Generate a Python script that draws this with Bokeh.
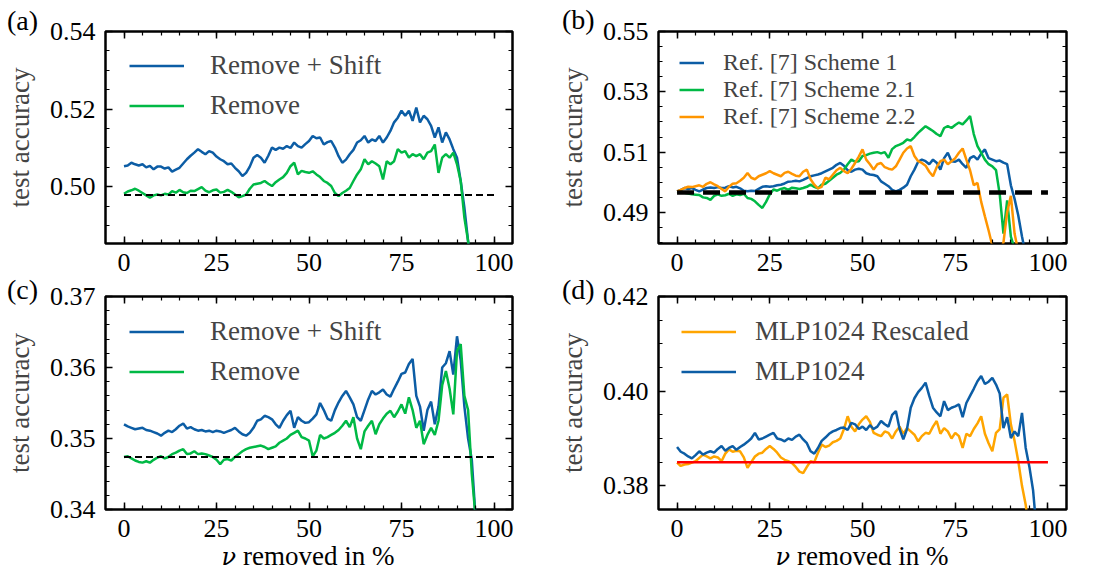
import numpy as np
from bokeh.plotting import figure
from bokeh.models import (Range1d, FixedTicker, NumeralTickFormatter, LinearAxis,
                          Legend, LegendItem, CustomJSTickFormatter, Div)
from bokeh.layouts import column, row
from bokeh.embed import file_html
from bokeh.resources import INLINE

FONT = "Liberation Serif"
BLUE = "#0C5DA5"
GREEN = "#00B945"
ORANGE = "#FF9500"
ORANGE_D = "#FFA500"
RED = "#FF0000"

# ---------------- data (x = nu removed in %, step 1) ----------------
a_shift = [.5053, .5055, .5062, .5058, .5055, .5058, .5050, .5054, .5045, .5052,
           .5052, .5047, .5050, .5039, .5044, .5049, .5060, .5071, .5080, .5088,
           .5097, .5090, .5084, .5092, .5088, .5078, .5071, .5066, .5058, .5060,
           .5049, .5040, .5028, .5036, .5052, .5075, .5082, .5075, .5062, .5080,
           .5101, .5095, .5101, .5098, .5105, .5100, .5114, .5105, .5101, .5110,
           .5118, .5131, .5125, .5127, .5109, .5115, .5118, .5101, .5079, .5062,
           .5070, .5084, .5095, .5114, .5120, .5131, .5114, .5122, .5118, .5131,
           .5114, .5127, .5144, .5166, .5178, .5196, .5183, .5196, .5170, .5204,
           .5166, .5183, .5174, .5157, .5127, .5153, .5114, .5140, .5122, .5097,
           .5075, .5015, .4946, .4860, .4780]
a_remove = [.4982, .4988, .4991, .4995, .4990, .4984, .4978, .4972, .4978, .4980,
            .4978, .4982, .4980, .4989, .4985, .4992, .4986, .4984, .4990, .4989,
            .4994, .4999, .4990, .4986, .4991, .4993, .4985, .4987, .4992, .4987,
            .4980, .4973, .4976, .4980, .4995, .5006, .5008, .5010, .5015, .5008,
            .5002, .5012, .5019, .5025, .5036, .5053, .5062, .5032, .5041, .5038,
            .5036, .5040, .5032, .5025, .5015, .5010, .5002, .4984, .4976, .4984,
            .4990, .4997, .5015, .5032, .5045, .5071, .5058, .5066, .5060, .5053,
            .5019, .5066, .5058, .5066, .5097, .5088, .5092, .5075, .5084, .5079,
            .5084, .5071, .5088, .5092, .5109, .5036, .5075, .5084, .5075, .5088,
            .5058, .5015, .4920, .4860, .4780]
a_baseline = 0.4979

b_s1 = [.4970, .4975, .4981, .4978, .4981, .4975, .4970, .4976, .4981, .4983,
        .4981, .4984, .4981, .4982, .4987, .4983, .4985, .4980, .4972, .4970,
        .4972, .4971, .4978, .4985, .4987, .4985, .4987, .4990, .4992, .4996,
        .5002, .5003, .5005, .5003, .5008, .5014, .5020, .5023, .5026, .5030,
        .5036, .5042, .5048, .5058, .5064, .5055, .5040, .5035, .5042, .5045,
        .5042, .5030, .5026, .5024, .5020, .5003, .4995, .4987, .4975, .4970,
        .4975, .4982, .4992, .5020, .5042, .5068, .5075, .5070, .5060, .5075,
        .5065, .5042, .5080, .5098, .5070, .5068, .5075, .5060, .5048, .5080,
        .5087, .5075, .5095, .5109, .5080, .5075, .5070, .5072, .5065, .5060,
        .4990, .4945, .4890, .4820, .4760]
b_s21 = [.4970, .4968, .4965, .4963, .4960, .4959, .4958, .4950, .4948, .4942,
         .4955, .4960, .4955, .4957, .4962, .4955, .4960, .4958, .4962, .4948,
         .4945, .4937, .4925, .4915, .4935, .4960, .4976, .4972, .4978, .4981,
         .4975, .4982, .4980, .4978, .4981, .4985, .4992, .4985, .4980, .4992,
         .4995, .5005, .5015, .5025, .5031, .5042, .5060, .5075, .5068, .5070,
         .5087, .5090, .5095, .5098, .5100, .5096, .5100, .5081, .5110, .5120,
         .5125, .5131, .5142, .5138, .5150, .5164, .5175, .5186, .5178, .5170,
         .5160, .5153, .5180, .5186, .5180, .5190, .5198, .5192, .5205, .5220,
         .5160, .5120, .5098, .5075, .5060, .5053, .5040, .4960, .4830, .4940,
         .4820, .4780]
b_s22 = [.4970, .4975, .4981, .4985, .4984, .4987, .4990, .4985, .4995, .5000,
         .4993, .4987, .4978, .4970, .4985, .4995, .4997, .5005, .5015, .5031,
         .5015, .5010, .5020, .5025, .5030, .5037, .5030, .5025, .5020, .5031,
         .5035, .5028, .5022, .5020, .5035, .5042, .5010, .4992, .4980, .4985,
         .5015, .5010, .5025, .5040, .5048, .5037, .5030, .5045, .5064, .5085,
         .5109, .5075, .5060, .5042, .5060, .5064, .5050, .5045, .5042, .5053,
         .5075, .5098, .5112, .5120, .5087, .5070, .5064, .5055, .5035, .5020,
         .5050, .5070, .5075, .5060, .5070, .5080, .5098, .5112, .5075, .5040,
         .4990, .4998, .4935, .4887, .4840, .4790, .4775, .4770, .4800, .4900,
         .4955, .4830, .4770]
b_baseline = 0.4966

c_shift = [.3520, .3517, .3515, .3513, .3514, .3515, .3512, .3511, .3509, .3507,
           .3504, .3508, .3511, .3509, .3513, .3518, .3521, .3514, .3516, .3513,
           .3511, .3512, .3510, .3511, .3509, .3511, .3510, .3508, .3510, .3512,
           .3515, .3510, .3506, .3504, .3508, .3515, .3525, .3527, .3532, .3530,
           .3527, .3520, .3515, .3525, .3533, .3539, .3515, .3530, .3525, .3522,
           .3523, .3528, .3534, .3550, .3540, .3528, .3525, .3540, .3551, .3560,
           .3567, .3558, .3548, .3530, .3525, .3540, .3555, .3567, .3562, .3565,
           .3569, .3562, .3559, .3570, .3580, .3591, .3593, .3605, .3612, .3560,
           .3545, .3511, .3540, .3552, .3520, .3545, .3600, .3606, .3623, .3590,
           .3644, .3610, .3545, .3500, .3470, .3390]
c_remove = [.3474, .3475, .3472, .3469, .3467, .3466, .3468, .3466, .3470, .3473,
            .3475, .3472, .3474, .3478, .3480, .3483, .3485, .3478, .3479, .3482,
            .3478, .3479, .3478, .3476, .3474, .3470, .3464, .3470, .3471, .3469,
            .3474, .3478, .3482, .3485, .3487, .3488, .3489, .3490, .3488, .3485,
            .3487, .3489, .3494, .3497, .3500, .3505, .3508, .3511, .3502, .3500,
            .3497, .3475, .3483, .3505, .3500, .3502, .3505, .3508, .3512, .3518,
            .3525, .3516, .3530, .3500, .3485, .3510, .3518, .3525, .3506, .3520,
            .3528, .3535, .3539, .3530, .3538, .3548, .3535, .3558, .3540, .3515,
            .3525, .3492, .3505, .3515, .3505, .3525, .3575, .3595, .3570, .3534,
            .3623, .3633, .3560, .3540, .3450, .3390, .3360]
c_baseline = 0.3474

d_mlp = [.3882, .3872, .3868, .3862, .3858, .3865, .3873, .3866, .3870, .3873,
         .3870, .3878, .3884, .3874, .3880, .3884, .3876, .3882, .3887, .3893,
         .3900, .3912, .3898, .3900, .3904, .3908, .3912, .3900, .3898, .3894,
         .3900, .3897, .3904, .3908, .3898, .3890, .3873, .3868, .3880, .3895,
         .3902, .3910, .3915, .3918, .3922, .3923, .3918, .3933, .3930, .3920,
         .3925, .3918, .3928, .3920, .3925, .3937, .3930, .3925, .3950, .3958,
         .3920, .3898, .3920, .3965, .3985, .3998, .4007, .4018, .3990, .3965,
         .3955, .3947, .3979, .3960, .3965, .3968, .3972, .3945, .3975, .3990,
         .4005, .4021, .4032, .4015, .4020, .4028, .4014, .3995, .3922, .3945,
         .3901, .3915, .3905, .3954, .3880, .3840, .3790, .3700]
d_rescaled = [.3849, .3842, .3845, .3846, .3849, .3852, .3859, .3866, .3862, .3858,
              .3862, .3860, .3852, .3868, .3877, .3872, .3874, .3873, .3860, .3838,
              .3850, .3862, .3868, .3870, .3878, .3884, .3878, .3870, .3860, .3855,
              .3852, .3848, .3840, .3830, .3827, .3840, .3852, .3850, .3870, .3887,
              .3882, .3885, .3892, .3895, .3900, .3920, .3947, .3925, .3915, .3930,
              .3940, .3947, .3935, .3912, .3908, .3905, .3915, .3912, .3900, .3915,
              .3925, .3910, .3922, .3915, .3908, .3894, .3905, .3912, .3910, .3925,
              .3937, .3910, .3922, .3915, .3900, .3912, .3905, .3880, .3910, .3905,
              .3920, .3932, .3947, .3910, .3890, .3873, .3912, .3920, .3986, .3993,
              .3930, .3895, .3852, .3800, .3760, .3700]
d_baseline = 0.385

baseline_x = [0, 100]
x_major = [0, 25, 50, 75, 100]
x_minor = list(range(0, 101, 5))
SERIF = "font-family:'Liberation Serif',serif;"
XLABEL_HTML = ("<span style=\"font-family:'DejaVu Serif',serif;font-style:italic;"
               "font-size:24px\">ν</span>"
               "<span style=\"" + SERIF + "\"> removed in %</span>")
panel_names = ["(a)", "(b)", "(c)", "(d)"]


def style_axis(ax, labels=True):
    ax.axis_line_color = None
    ax.major_tick_in = 7
    ax.major_tick_out = 0
    ax.minor_tick_in = 4
    ax.minor_tick_out = 0
    ax.major_tick_line_width = 1.5
    ax.minor_tick_line_width = 1.2
    ax.major_tick_line_color = "black"
    ax.minor_tick_line_color = "black"
    if labels:
        ax.major_label_text_font = FONT
        ax.major_label_text_font_size = "26px"
        ax.major_label_text_color = "black"
    else:
        ax.formatter = CustomJSTickFormatter(code="return ''")
        ax.major_label_text_font_size = "1px"
        ax.major_label_standoff = 0


def make_panel(w, h, bl, br, bt, bb, yr, yticks, yminor):
    p = figure(width=w, height=h, output_backend="svg", toolbar_location=None,
               x_range=Range1d(-5, 105), y_range=Range1d(*yr),
               min_border_left=bl, min_border_right=br,
               min_border_top=bt, min_border_bottom=bb)
    p.xgrid.visible = False
    p.ygrid.visible = False
    p.background_fill_color = "white"
    p.border_fill_color = "white"
    p.outline_line_color = "black"
    p.outline_line_width = 2.5
    xt = FixedTicker(ticks=x_major, minor_ticks=x_minor)
    yt = FixedTicker(ticks=yticks, minor_ticks=yminor)
    xa = p.xaxis[0]
    ya = p.yaxis[0]
    xa.ticker = xt
    ya.ticker = yt
    ya.formatter = NumeralTickFormatter(format="0.00")
    style_axis(xa)
    style_axis(ya)
    xa.major_label_standoff = 10
    ya.major_label_standoff = 10
    ya.axis_label = "test accuracy"
    ya.axis_label_text_font = FONT
    ya.axis_label_text_font_size = "27px"
    ya.axis_label_text_font_style = "normal"
    ya.axis_label_standoff = 12
    ra = LinearAxis(ticker=yt)
    style_axis(ra, labels=False)
    p.add_layout(ra, "right")
    ta = LinearAxis(ticker=xt)
    style_axis(ta, labels=False)
    p.add_layout(ta, "above")
    return p


def add_legend(p, items, loc, gw, gh, spacing, size, standoff):
    lg = Legend(items=items, location=loc, glyph_width=gw, glyph_height=gh,
                label_height=gh, spacing=spacing, padding=0, margin=0,
                label_standoff=standoff, label_text_font=FONT,
                label_text_font_size=size, label_text_baseline="middle",
                background_fill_alpha=0, border_line_color=None)
    p.add_layout(lg, "center")


def free_text(text, left, top, width, size, align="left"):
    html = "<span style=\"" + SERIF + "\">" + text + "</span>" if "<" not in text else text
    return Div(text=html, width=width, height=32, margin=0,
               styles={"position": "absolute", "left": f"{left}px",
                       "top": f"{top}px", "font-family": "'Liberation Serif', serif",
                       "font-size": size, "line-height": "1",
                       "color": "black", "white-space": "nowrap",
                       "text-align": align})


def ticks_between(lo, hi, step):
    return list(np.round(np.arange(lo, hi + step / 2, step), 4))


# ---------------- (a) ----------------
pa = make_panel(547, 282, 105, 35, 31, 39, (0.4854, 0.54),
                [0.50, 0.52, 0.54], ticks_between(0.49, 0.54, 0.005))
la1 = pa.line(list(range(len(a_shift))), a_shift, line_color=BLUE, line_width=2.5)
la2 = pa.line(list(range(len(a_remove))), a_remove, line_color=GREEN, line_width=2.5)
pa.line(baseline_x, [a_baseline] * 2, line_color="black", line_width=2, line_dash="7 4")
add_legend(pa, [LegendItem(label="Remove + Shift", renderers=[la1]),
                LegendItem(label="Remove", renderers=[la2])],
           (24, 122), 55, 31, 9, "27px", 26)

# ---------------- (b) ----------------
pb = make_panel(547, 282, 111, 28, 31, 39, (0.4797, 0.55),
                [0.49, 0.51, 0.53, 0.55], ticks_between(0.48, 0.55, 0.005))
lb1 = pb.line(list(range(len(b_s1))), b_s1, line_color=BLUE, line_width=2.5)
lb2 = pb.line(list(range(len(b_s21))), b_s21, line_color=GREEN, line_width=2.5)
lb3 = pb.line(list(range(len(b_s22))), b_s22, line_color=ORANGE, line_width=2.5)
pb.line(baseline_x, [b_baseline] * 2, line_color="black", line_width=4.5, line_dash="17 9")
add_legend(pb, [LegendItem(label="Ref. [7] Scheme 1", renderers=[lb1]),
                LegendItem(label="Ref. [7] Scheme 2.1", renderers=[lb2]),
                LegendItem(label="Ref. [7] Scheme 2.2", renderers=[lb3])],
           (21, 113), 25, 27, 0, "24px", 19)

# ---------------- (c) ----------------
pc = make_panel(547, 290, 105, 35, 14, 63, (0.34, 0.37),
                [0.34, 0.35, 0.36, 0.37], ticks_between(0.34, 0.37, 0.002))
lc1 = pc.line(list(range(len(c_shift))), c_shift, line_color=BLUE, line_width=2.5)
lc2 = pc.line(list(range(len(c_remove))), c_remove, line_color=GREEN, line_width=2.5)
pc.line(baseline_x, [c_baseline] * 2, line_color="black", line_width=2, line_dash="7 4")
add_legend(pc, [LegendItem(label="Remove + Shift", renderers=[lc1]),
                LegendItem(label="Remove", renderers=[lc2])],
           (24, 122), 55, 31, 9, "27px", 26)

# ---------------- (d) ----------------
pd_ = make_panel(547, 290, 111, 28, 14, 63, (0.375, 0.42),
                 [0.38, 0.40, 0.42], ticks_between(0.375, 0.42, 0.005))
ld1 = pd_.line(list(range(len(d_rescaled))), d_rescaled, line_color=ORANGE_D, line_width=2.5)
ld2 = pd_.line(list(range(len(d_mlp))), d_mlp, line_color=BLUE, line_width=2.5)
pd_.line(baseline_x, [d_baseline] * 2, line_color=RED, line_width=2.5)
add_legend(pd_, [LegendItem(label="MLP1024 Rescaled", renderers=[ld1]),
                 LegendItem(label="MLP1024", renderers=[ld2])],
           (23, 122), 55, 31, 9, "27px", 19)

texts = [free_text(panel_names[0], 7, 7, 50, "28px"),
         free_text(panel_names[1], 562, 6, 50, "28px"),
         free_text(panel_names[2], 7, 276, 50, "28px"),
         free_text(panel_names[3], 562, 276, 50, "28px"),
         free_text(XLABEL_HTML, 158, 543, 300, "27px", "center"),
         free_text(XLABEL_HTML, 712, 543, 300, "27px", "center")]

layout = column(row(pa, pb), row(pc, pd_), *texts)
open("out.html", "w").write(file_html(layout, INLINE))
